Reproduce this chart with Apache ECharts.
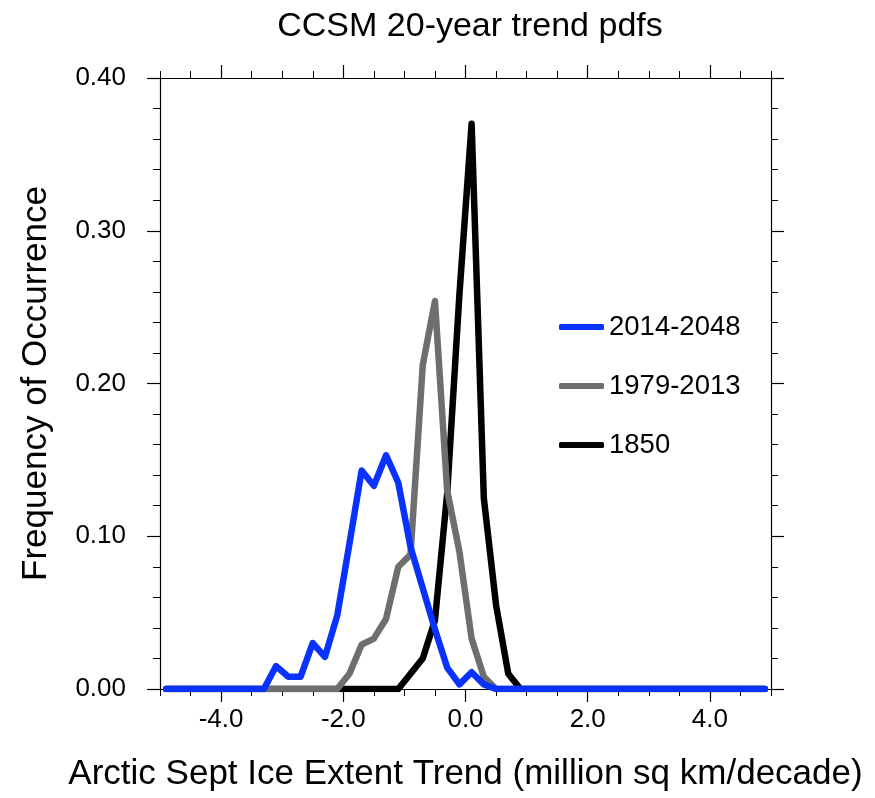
<!DOCTYPE html>
<html>
<head>
<meta charset="utf-8">
<script src="https://cdn.jsdelivr.net/npm/echarts@6/dist/echarts.min.js"></script>
<style>
html,body{margin:0;padding:0;background:#fff;}
#chart{width:875px;height:798px;}
</style>
</head>
<body>
<div id="chart"></div>
<script>
// Bin centres (million sq km/decade)
var binCenters = [-4.9,-4.7,-4.5,-4.3,-4.1,-3.9,-3.7,-3.5,-3.3,-3.1,-2.9,-2.7,-2.5,-2.3,-2.1,-1.9,-1.7,-1.5,-1.3,-1.1,-0.9,-0.7,-0.5,-0.3,-0.1,0.1,0.3,0.5,0.7,0.9,1.1,1.3,1.5,1.7,1.9,2.1,2.3,2.5,2.7,2.9,3.1,3.3,3.5,3.7,3.9,4.1,4.3,4.5,4.7,4.9];

var freq2014 = [0,0,0,0,0,0,0,0,0,
  0.015,0.008,0.008,0.030,0.021,0.048,0.095,0.143,0.133,0.153,0.135,0.093,0.066,0.039,0.014,0.003,0.011,0.003,
  0,0,0,0,0,0,0,0,0,0,0,0,0,0,0,0,0,0,0,0,0,0,0];

var freq1979 = [0,0,0,0,0,0,0,0,0,0,0,0,0,0,0,
  0.010,0.029,0.033,0.046,0.080,0.088,0.212,0.254,0.130,0.090,0.033,0.008,
  0,0,0,0,0,0,0,0,0,0,0,0,0,0,0,0,0,0,0,0,0,0,0];

var freq1850 = [0,0,0,0,0,0,0,0,0,0,0,0,0,0,0,0,0,0,0,0,
  0.010,0.020,0.045,0.128,0.258,0.370,0.125,0.055,0.010,
  0,0,0,0,0,0,0,0,0,0,0,0,0,0,0,0,0,0,0,0,0,0];

var seriesNames = ['2014-2048','1979-2013','1850'];
var seriesColors = ['#0a32ff','#6e6e6e','#000000'];
var xMajorTicks = [-4,-2,0,2,4];
var yTickLabels = ['0.00','0.10','0.20','0.30','0.40'];

function pairs(vals){ return binCenters.map(function(x,i){ return [x, vals[i]]; }); }

var FONT = "'Liberation Sans', Arial, Helvetica, sans-serif";
var chart = echarts.init(document.getElementById('chart'), null, {renderer:'canvas'});

var axisLineStyle = {color:'#000', width:1.2};
function majorX(pos, showLabel){
  return {
    type:'value', position:pos, min:-5, max:5, gridIndex:0,
    axisLine:{show:true, onZero:false, lineStyle:axisLineStyle},
    axisTick:{show:true, customValues:xMajorTicks, length:13, lineStyle:{color:'#000', width:1.2}},
    axisLabel:{show:showLabel, customValues:xMajorTicks, formatter:function(v){return v.toFixed(1);},
      fontSize:26, color:'#000', fontFamily:FONT, margin:18},
    splitLine:{show:false}
  };
}
function minorX(pos){
  return {
    type:'value', position:pos, min:-5, max:5, interval:0.5, gridIndex:0,
    axisLine:{show:false, onZero:false},
    axisTick:{show:true, length:7, lineStyle:{color:'#000', width:1}},
    axisLabel:{show:false}, splitLine:{show:false}
  };
}
function yAx(pos, showLabel){
  return {
    type:'value', position:pos, min:0, max:0.4, interval:0.1, gridIndex:0,
    axisLine:{show:true, onZero:false, lineStyle:axisLineStyle},
    axisTick:{show:true, length:13, lineStyle:{color:'#000', width:1.2}},
    minorTick:{show:true, splitNumber:5, length:7, lineStyle:{color:'#000', width:1}},
    axisLabel:{show:showLabel, formatter:function(v){ return yTickLabels[Math.round(v*10)]; },
      fontSize:26, color:'#000', fontFamily:FONT, margin:34},
    splitLine:{show:false}, minorSplitLine:{show:false}
  };
}

var xb = majorX('bottom', true);
xb.name = 'Arctic Sept Ice Extent Trend (million sq km/decade)';
xb.nameLocation = 'middle';
xb.nameGap = 68;
xb.nameTextStyle = {fontSize:35, color:'#000', fontFamily:FONT};

var yl = yAx('left', true);
yl.name = 'Frequency of Occurrence';
yl.nameLocation = 'middle';
yl.nameGap = 106;
yl.nameTextStyle = {fontSize:35, color:'#000', fontFamily:FONT};

var seriesData = [freq2014, freq1979, freq1850];
var series = [];
// draw black first, blue on top
for (var k = 2; k >= 0; k--) {
  series.push({
    name: seriesNames[k], type:'line', xAxisIndex:0, yAxisIndex:0,
    data: pairs(seriesData[k]), showSymbol:false, symbol:'none', smooth:false,
    color: seriesColors[k],
    lineStyle:{width:6.5, color:seriesColors[k], cap:'round', join:'round'},
    animation:false, z: 10 - k
  });
}

chart.setOption({
  animation:false,
  backgroundColor:'#fff',
  textStyle:{fontFamily:FONT},
  title:{text:'CCSM 20-year trend pdfs', left:465, textAlign:'center', top:5,
    textStyle:{fontSize:34, fontWeight:'normal', color:'#000', fontFamily:FONT}},
  grid:{left:160, top:78, width:611, height:611, containLabel:false},
  xAxis:[xb, minorX('bottom'), majorX('top', false), minorX('top')],
  yAxis:[yl, yAx('right', false)],
  legend:{data:seriesNames, orient:'vertical', left:554, top:307, itemWidth:45, itemHeight:6,
    itemGap:29, icon:'roundRect', selectedMode:false,
    textStyle:{fontSize:27.5, color:'#000', fontFamily:FONT, lineHeight:30}},
  series: series
});
</script>
</body>
</html>
